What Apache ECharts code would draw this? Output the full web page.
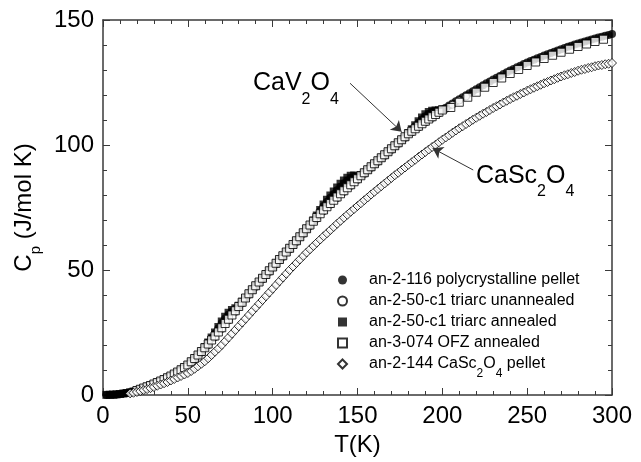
<!DOCTYPE html>
<html>
<head>
<meta charset="utf-8">
<title>Heat capacity of CaV2O4 and CaSc2O4</title>
<script src="https://cdn.jsdelivr.net/npm/echarts@6/dist/echarts.min.js"></script>
<style>
  html, body { margin: 0; padding: 0; background: #fff; }
  #chart { width: 641px; height: 462px; }
</style>
</head>
<body>
<div id="chart"></div>
<script>
// Temperature grid (K), 2 K steps
const tGrid2 = [
  2,4,6,8,10,12,14,16,18,20,22,24,26,28,30,32,34,36,38,40,42,44,46,48,50,
  52,54,56,58,60,62,64,66,68,70,72,74,76,78,80,82,84,86,88,90,92,94,96,98,100,
  102,104,106,108,110,112,114,116,118,120,122,124,126,128,130,132,134,136,138,140,142,144,146,148,150,
  152,154,156,158,160,162,164,166,168,170,172,174,176,178,180,182,184,186,188,190,192,194,196,198,200,
  202,204,206,208,210,212,214,216,218,220,222,224,226,228,230,232,234,236,238,240,242,244,246,248,250,
  252,254,256,258,260,262,264,266,268,270,272,274,276,278,280,282,284,286,288,290,292,294,296,298,300
];

// an-2-116 polycrystalline pellet, Cp (J/mol K) on tGrid2
const polyPelletCp = [
  0.05,0.1,0.15,0.25,0.4,0.6,0.8,1.1,1.4,1.8,2.3,2.8,3.3,3.8,4.4,5.0,5.6,6.2,6.9,7.6,8.4,9.2,10.1,11.0,12.0,
  13.3,14.6,16.0,17.4,19.1,20.8,22.7,24.6,26.7,28.8,30.6,32.2,33.4,34.4,35.6,37.2,38.8,40.5,42.1,43.7,45.2,46.7,48.2,49.7,51.2,
  52.7,54.2,55.7,57.2,58.7,60.2,61.7,63.3,64.9,66.5,68.0,69.7,71.6,73.6,75.6,77.3,78.9,80.4,81.9,83.3,84.6,85.7,86.6,87.1,87.2,
  87.9,88.9,90.1,91.3,92.5,93.7,94.9,96.1,97.3,98.5,99.7,100.9,102.1,103.3,104.7,106.1,107.5,108.9,110.3,111.5,112.4,113.0,113.3,113.7,114.2,
  114.9,115.8,116.6,117.5,118.3,119.1,119.9,120.7,121.5,122.3,123.1,123.9,124.7,125.4,126.2,126.9,127.6,128.4,129.1,129.8,130.4,131.1,131.7,132.4,133.0,
  133.6,134.1,134.7,135.2,135.8,136.3,136.8,137.3,137.8,138.3,138.8,139.3,139.7,140.2,140.6,141.0,141.4,141.8,142.2,142.6,143.0,143.3,143.7,144.0,144.4
];

// an-2-50-c1 triarc unannealed
const triarcUnannealedT = [
  18,22,26,30,34,38,42,46,50,54,58,62,66,70,74,78,82,86,90,94,98,102,106,
  110,114,118,122,126,130,134,138,142,146,150,154,158,162,166,170,174,178,182,186,190,194,198,202,206,210,214
];
const triarcUnannealedCp = [
  1.4,2.3,3.3,4.4,5.6,6.9,8.4,10.1,12.0,14.1,16.9,19.9,23.1,26.4,29.8,33.2,36.6,40.0,43.2,46.2,49.2,52.2,55.2,
  58.2,61.2,64.4,67.5,70.5,73.5,76.1,78.7,81.2,83.6,86.0,88.4,90.8,93.2,95.6,98.0,100.4,102.8,105.0,107.0,109.0,110.8,112.6,114.4,116.1,117.8,119.4
];

// an-2-50-c1 triarc annealed, on tGrid2 up to 200 K
const triarcAnnealedCp = [
  0.05,0.1,0.15,0.25,0.4,0.6,0.8,1.1,1.4,1.8,2.3,2.8,3.3,3.8,4.4,5.0,5.6,6.2,6.9,7.6,8.4,9.2,10.1,11.0,12.0,
  13.3,14.6,16.0,17.4,19.2,21.0,23.0,25.0,27.2,29.4,31.3,32.9,34.0,34.7,35.7,37.3,38.8,40.5,42.1,43.7,45.2,46.7,48.2,49.7,51.2,
  52.7,54.2,55.7,57.2,58.7,60.2,61.7,63.3,64.9,66.5,68.0,69.8,71.8,74.0,76.2,78.1,79.8,81.4,83.0,84.5,85.8,86.9,87.7,87.8,87.5,
  88.0,88.9,90.1,91.3,92.5,93.7,94.9,96.1,97.3,98.5,99.7,100.9,102.1,103.3,104.8,106.3,107.9,109.5,111.0,112.3,113.2,113.7,113.8,113.9,114.3
];

// an-3-074 OFZ annealed: 2 K steps from 20 K to 200 K, then 5 K steps
const ofzHighT = [205,210,215,220,225,230,235,240,245,250,255,260,265,270,275,280,285,290,295];
const ofzCp = [
  1.8,2.3,2.8,3.3,3.8,4.4,5.0,5.6,6.2,6.9,7.6,8.4,9.2,10.1,11.0,12.0,
  13.3,14.6,16.0,17.4,18.9,20.4,22.0,23.6,25.2,26.9,28.6,30.3,32.0,33.7,35.4,37.1,38.8,40.5,42.1,43.7,45.2,46.7,48.2,49.7,51.2,
  52.7,54.2,55.7,57.2,58.7,60.2,61.7,63.3,64.9,66.5,68.0,69.5,71.0,72.5,74.0,75.3,76.6,77.9,79.2,80.5,81.7,82.9,84.1,85.3,86.5,
  87.7,88.9,90.1,91.3,92.5,93.7,94.9,96.1,97.3,98.5,99.7,100.9,102.1,103.3,104.5,105.5,106.5,107.5,108.5,109.5,110.4,111.3,112.2,113.1,114.0,
  115.0,117.1,119.1,121.1,123.1,125.0,126.8,128.6,130.2,131.8,133.2,134.6,135.9,137.1,138.3,139.4,140.4,141.4,142.3
];

// an-2-144 CaSc2O4 pellet, on tGrid2 from 16 K
const cascCp = [
  0.65,0.9,1.2,1.55,1.95,2.35,2.75,3.2,3.7,4.2,4.7,5.2,5.8,6.4,7.0,7.6,8.2,8.8,
  9.6,10.5,11.5,12.5,13.5,14.7,16.0,17.3,18.6,20.0,21.5,23.0,24.5,26.0,27.5,29.0,30.5,32.0,33.5,35.0,36.5,38.0,39.5,41.0,42.5,
  44.0,45.5,47.0,48.5,50.0,51.4,52.8,54.2,55.6,57.0,58.3,59.6,60.9,62.2,63.5,64.7,66.0,67.2,68.5,69.7,70.9,72.1,73.3,74.4,75.6,
  76.7,77.9,79.0,80.2,81.3,82.4,83.5,84.6,85.7,86.8,87.9,88.9,90.0,91.0,92.1,93.1,94.1,95.2,96.2,97.2,98.2,99.2,100.1,101.1,102.1,
  103.0,103.9,104.9,105.8,106.7,107.5,108.4,109.2,110.1,110.9,111.7,112.5,113.2,114.0,114.8,115.5,116.2,117.0,117.7,118.4,119.1,119.7,120.4,121.0,121.7,
  122.3,122.9,123.5,124.1,124.7,125.2,125.8,126.3,126.9,127.4,127.9,128.3,128.8,129.2,129.7,130.1,130.4,130.8,131.1,131.5,131.8,132.0,132.3,132.5,132.8
];

// Axis ranges and ticks
const xRange = [0, 300], xStep = 50;
const yRange = [0, 150], yStep = 50;

const seriesNames = [
  'an-2-116 polycrystalline pellet',
  'an-2-50-c1 triarc unannealed',
  'an-2-50-c1 triarc annealed',
  'an-3-074 OFZ annealed',
  'an-2-144 CaSc2O4 pellet'
];

const FONT = '"Liberation Sans", Arial, Helvetica, sans-serif';
const INK = '#000';
const FRAME = '#3a3a3a';

const pairs = (ts, vs) => ts.map((t, i) => [t, vs[i]]);

function scatter(name, symbol, size, filled, data) {
  return {
    name, type: 'scatter', symbol, symbolSize: size, data,
    itemStyle: filled
      ? { color: INK, borderColor: INK, borderWidth: 0 }
      : { color: '#fff', borderColor: INK, borderWidth: 1 },
    emphasis: { disabled: true },
    silent: true
  };
}

const axisCommon = {
  type: 'value',
  splitLine: { show: false },
  axisLine: { show: true, onZero: false, lineStyle: { color: FRAME, width: 1.5 } },
  axisTick: { show: true, inside: true, length: 7, lineStyle: { color: FRAME, width: 1 } },
  minorTick: { show: true, splitNumber: 5, length: 4, lineStyle: { color: FRAME, width: 1 } },
  minorSplitLine: { show: false }
};

const labelFont = { fontFamily: FONT, fontSize: 24, color: INK };

const chart = echarts.init(document.getElementById('chart'), null, { renderer: 'canvas' });

chart.setOption({
  animation: false,
  backgroundColor: '#fff',
  grid: { left: 103, right: 29, top: 20, bottom: 67 },
  xAxis: [
    Object.assign({}, axisCommon, {
      position: 'bottom', min: xRange[0], max: xRange[1], interval: xStep,
      axisLabel: Object.assign({ margin: 9 }, labelFont),
      name: 'T(K)', nameLocation: 'middle', nameGap: 30,
      nameTextStyle: { fontFamily: FONT, fontSize: 24, color: INK, lineHeight: 24 }
    }),
    Object.assign({}, axisCommon, {
      position: 'top', min: xRange[0], max: xRange[1], interval: xStep,
      axisLabel: { show: false }
    })
  ],
  yAxis: [
    Object.assign({}, axisCommon, {
      position: 'left', min: yRange[0], max: yRange[1], interval: yStep,
      axisLabel: Object.assign({ margin: 9 }, labelFont),
      name: '{a|C}{s|p}{a| (J/mol K)}', nameLocation: 'middle', nameGap: 62, nameRotate: 90,
      nameTextStyle: {
        fontFamily: FONT, fontSize: 24, color: INK, lineHeight: 28,
        rich: {
          a: { fontFamily: FONT, fontSize: 24, color: INK, lineHeight: 28 },
          s: { fontFamily: FONT, fontSize: 15, color: INK, lineHeight: 28, verticalAlign: 'top', padding: [18, 0, 0, 0] }
        }
      }
    }),
    Object.assign({}, axisCommon, {
      position: 'right', min: yRange[0], max: yRange[1], interval: yStep,
      axisLabel: { show: false }
    })
  ],
  legend: {
    data: seriesNames,
    orient: 'vertical',
    left: 332, top: 267,
    itemWidth: 9, itemHeight: 9, itemGap: 5,
    selectedMode: false,
    formatter: name => name.indexOf('CaSc2O4') >= 0
      ? '{a|' + name.replace('CaSc2O4', 'CaSc}{s|2}{a|O}{s|4}{a|') + '}'
      : '{a|' + name + '}',
    textStyle: {
      fontFamily: FONT, fontSize: 16, color: INK, lineHeight: 16, padding: [0, 0, 0, 17],
      rich: {
        a: { fontFamily: FONT, fontSize: 16, color: INK, lineHeight: 16 },
        s: { fontFamily: FONT, fontSize: 12, color: INK, lineHeight: 16, verticalAlign: 'top', padding: [12, 0, 0, 0] }
      }
    }
  },
  series: [
    scatter(seriesNames[0], 'circle', 8, true, pairs(tGrid2, polyPelletCp)),
    scatter(seriesNames[1], 'circle', 7, false, pairs(triarcUnannealedT, triarcUnannealedCp)),
    scatter(seriesNames[2], 'rect', 8, true, pairs(tGrid2.slice(0, triarcAnnealedCp.length), triarcAnnealedCp)),
    scatter(seriesNames[3], 'rect', 8, false, pairs(tGrid2.slice(9, 100).concat(ofzHighT), ofzCp)),
    scatter(seriesNames[4], 'diamond', 9, false, pairs(tGrid2.slice(7), cascCp)),
    {
      // pointer arrows for the two compound labels
      name: 'pointers', type: 'line', data: [], silent: true,
      markLine: {
        silent: true, animation: false,
        symbol: ['none', 'arrow'], symbolSize: 10,
        label: { show: false },
        lineStyle: { color: '#333', width: 1, type: 'solid' },
        emphasis: { disabled: true },
        data: [
          [{ coord: [145.6, 124.7] }, { coord: [176.0, 105.3] }],
          [{ coord: [218.2, 90.0] }, { coord: [194.3, 98.7] }]
        ]
      }
    }
  ]
});

// compound labels, anchored in data space
const labelRich = {
  a: { fontFamily: FONT, fontSize: 25, fill: INK, lineHeight: 28 },
  s: { fontFamily: FONT, fontSize: 16, fill: INK, lineHeight: 28, verticalAlign: 'top', padding: [22, 0, 0, 0] }
};
const vPos = chart.convertToPixel({ xAxisIndex: 0, yAxisIndex: 0 }, [88.4, 124.6]);
const scPos = chart.convertToPixel({ xAxisIndex: 0, yAxisIndex: 0 }, [219.8, 87.6]);
chart.setOption({
  graphic: [
    { type: 'text', x: vPos[0], y: vPos[1], silent: true,
      style: { text: '{a|CaV}{s|2}{a|O}{s|4}', rich: labelRich, align: 'left', verticalAlign: 'middle', fill: INK } },
    { type: 'text', x: scPos[0], y: scPos[1], silent: true,
      style: { text: '{a|CaSc}{s|2}{a|O}{s|4}', rich: labelRich, align: 'left', verticalAlign: 'middle', fill: INK } }
  ]
});
</script>
</body>
</html>
